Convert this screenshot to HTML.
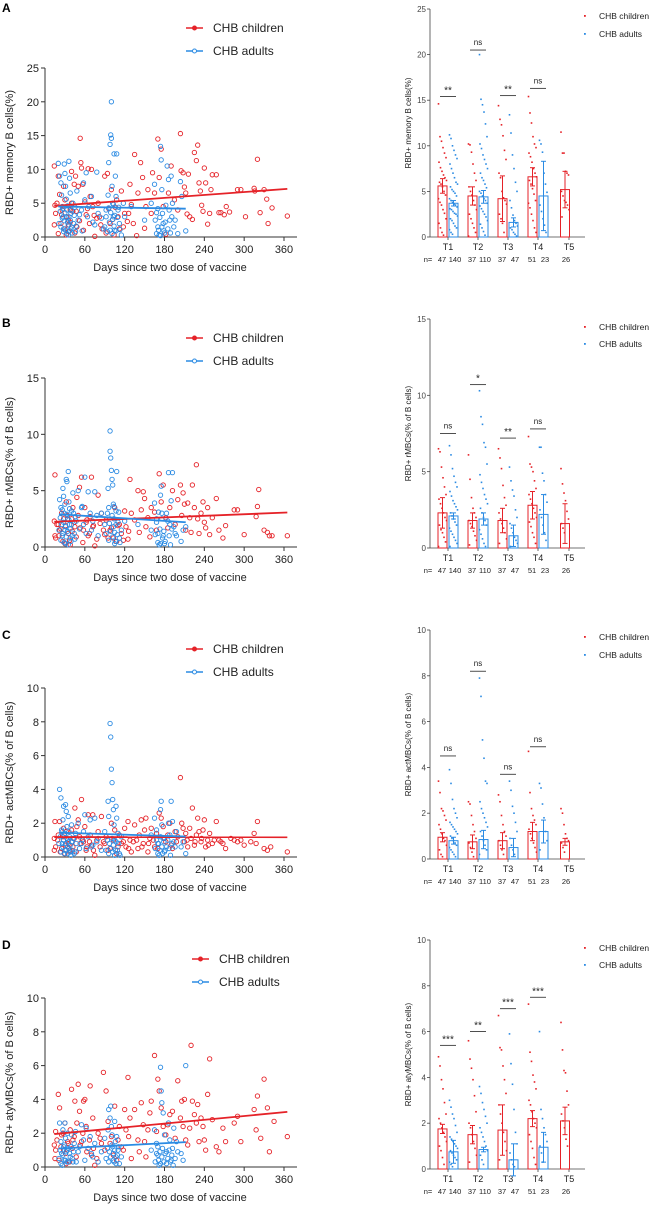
<!DOCTYPE html>
<html><head><meta charset="utf-8"><style>
html,body{margin:0;padding:0;background:#fff;}
svg{display:block;font-family:"Liberation Sans",Arial,sans-serif;}
</style></head><body>
<svg id="fig" width="654" height="1210" viewBox="0 0 654 1210" xmlns="http://www.w3.org/2000/svg"></svg>
<script>
// ---------------- DATA ----------------
const groupLabels = ["T1","T2","T3","T4","T5"];
const childN = ["47","37","37","51","26"];
const adultN = ["140","110","47","23"];
const xTicks = [0,60,120,180,240,300,360];

// Panel A scatter [day, value]
const aChild = [[14,10.5],[15,4.7],[14,1.8],[20,9],[22,6.3],[25,3.3],[28,7.5],[30,5.5],[32,0.3],[35,2.5],[36,1.8],[38,4],[40,9.7],[42,3.8],[44,7.8],[46,9],[48,1.5],[50,7.5],[53,14.6],[54,11],[55,10.2],[57,7.8],[60,5.2],[62,3.3],[65,10.1],[68,6],[70,10],[72,4.5],[75,0.1],[78,2.8],[82,3],[86,1.2],[90,9],[94,9.4],[96,4.2],[98,2],[100,7],[104,0.3],[108,5.5],[110,3],[112,1.2],[115,6.8],[120,3.5],[124,2.3],[128,7.8],[130,4.8],[133,2],[135,12.2],[138,0.2],[140,6.5],[144,11],[147,8.8],[150,1.3],[152,4.5],[155,7],[160,3.5],[162,9.5],[165,6.5],[170,14.5],[172,8.8],[175,13],[178,4.5],[182,0.4],[186,6.5],[190,10.5],[195,5.5],[200,4],[204,15.3],[205,9.8],[208,9.5],[210,7.4],[212,6.5],[214,3.4],[216,9.3],[218,3],[222,2.6],[225,12.5],[228,11.3],[230,13.6],[232,8],[234,6.8],[236,4.7],[238,3.8],[240,10.2],[242,8],[245,1.9],[248,3.5],[250,7],[252,9.2],[258,9.2],[262,3.6],[265,3.6],[270,3.3],[273,4.5],[278,3.7],[290,7],[295,7],[302,3],[315,7.2],[316,6.8],[320,11.5],[324,3.6],[330,7],[334,5.6],[336,2],[342,4.3],[365,3.1]];
const aChildMore = [[16,3.5],[18,5],[20,0.5],[24,2],[26,4],[30,1.2],[33,3],[36,0.8],[38,2.2],[40,5],[45,0.6],[47,3.8],[52,2.4],[58,1],[64,4.2],[67,2],[74,3.2],[80,5],[84,1.8],[92,0.6],[102,2.6],[106,4.4],[118,1.5],[126,3.5]];
const aAdult = [[20,10.9],[22,9],[24,8],[25,6.2],[26,4.5],[27,3],[28,1.2],[29,10.8],[30,9.4],[31,7.5],[32,5.6],[33,4],[34,2.2],[35,0.3],[36,11.2],[37,8.7],[38,6.5],[39,3.5],[40,1.5],[42,5],[44,3.2],[46,0.8],[48,6.8],[50,2.5],[55,4],[58,8],[60,5.5],[62,9.5],[64,3],[70,6],[75,1.8],[78,9.6],[85,2.8],[88,1.2],[92,4],[95,6.2],[96,11],[98,13.7],[99,15.1],[100,20],[100,14.6],[101,7.5],[102,5],[103,3],[104,12.3],[105,1],[106,9],[107,6],[108,12.3],[110,4],[112,2],[115,0.3],[118,5],[120,3],[130,4.5],[150,2.5],[160,5],[165,7.8],[168,3.6],[170,1.5],[172,0.3],[174,13.4],[175,11.4],[176,7],[178,2],[180,0.6],[182,4.7],[184,10.5],[186,8.5],[188,2.5],[190,9],[192,5],[194,1.5],[200,0.5],[204,8.2],[206,6],[212,0.9]];
const aAdultMore = [[21,2],[23,3.8],[24,1.5],[26,2.8],[27,4.2],[28,0.8],[29,2.4],[30,3.6],[31,1],[32,2.9],[33,0.5],[34,4.6],[35,1.8],[36,3],[37,0.9],[38,2.5],[39,1.2],[40,3.9],[41,0.6],[43,2],[45,4.4],[47,1.6],[52,3.3],[56,0.9],[66,4.5],[72,2.2],[80,3.5],[90,1.5],[92,3],[94,0.8],[96,4.3],[97,2.2],[98,1],[99,3.6],[101,0.5],[102,2.6],[103,4.8],[104,1.6],[105,3.2],[107,0.9],[109,2.9],[111,4.4],[113,1.1],[166,2.5],[168,0.5],[170,4.2],[171,1],[173,2.9],[174,0.2],[176,1.5],[177,3.5],[179,0.9],[181,2.2],[185,1.2],[187,4],[189,0.6],[191,3],[196,2.5]];
// Panel B scatter
const bChild = [[14,2.3],[15,6.4],[15,1],[20,2],[22,1.5],[25,3],[28,2.5],[30,0.3],[32,4],[35,1.2],[38,0.2],[40,2.5],[42,3.5],[45,1.8],[48,4.4],[50,2.8],[52,5.3],[55,6.2],[58,1.5],[60,3.5],[62,2.2],[65,1],[68,2.7],[70,6.2],[72,1.8],[75,0.1],[80,4.6],[85,3],[88,1.5],[92,2.4],[95,0.8],[100,1.7],[105,3.5],[108,0.5],[112,2],[115,1.2],[120,3.2],[122,1.8],[125,0.7],[128,6],[130,3],[135,2.4],[140,5],[142,1.3],[145,3.3],[148,4.9],[150,4.3],[152,1.8],[155,2.6],[158,0.9],[160,3.5],[165,3.1],[168,1.5],[172,6.5],[175,4],[178,5.5],[182,2.6],[185,1.7],[188,3.5],[192,5],[196,2],[200,4.2],[204,5.5],[206,2.8],[208,4.8],[210,3.8],[212,1.5],[215,3.9],[218,2.6],[220,1.3],[222,5.5],[225,3.5],[228,7.3],[230,2.5],[232,1.2],[235,3],[238,4],[240,2.2],[242,1.7],[245,3.5],[248,1.1],[252,2.6],[258,4.3],[262,1.5],[268,0.8],[272,1.9],[285,3.3],[290,3.3],[300,1.1],[318,2.7],[320,3.6],[322,5.1],[330,1.5],[335,1.3],[338,1],[342,1],[365,1]];
const bChildMore = [[16,0.8],[18,2],[21,1],[24,1.6],[27,0.5],[31,1.9],[34,2.8],[37,0.6],[41,1.4],[44,2.2],[47,0.9],[53,1.7],[57,0.4],[63,2.4],[67,1.2],[73,1.9],[78,0.7],[83,2.1],[90,1.1],[98,1.5],[103,0.8],[110,1.9],[118,0.6],[126,1.4]];
const bAdult = [[22,4.2],[24,3.5],[25,2],[26,1],[27,5.2],[28,4.5],[29,3],[30,1.5],[31,0.3],[32,6],[33,5.8],[34,2.5],[35,6.7],[36,4],[37,2],[38,0.8],[40,3.2],[42,4.8],[44,1.2],[46,2.7],[50,5],[55,3.5],[58,2],[60,6.2],[62,1.2],[65,4.9],[68,3],[72,2.3],[75,4.9],[80,1],[85,3],[90,2],[95,5.2],[96,3.5],[98,10.3],[98,8.5],[99,7.9],[100,6.8],[101,6],[102,5.5],[103,3.8],[104,2.5],[105,1.3],[106,0.5],[107,3.2],[108,6.7],[110,2.2],[112,0.8],[115,1.5],[120,2.3],[140,2],[160,1.5],[165,3.9],[168,2.5],[170,1.2],[172,0.2],[174,4.6],[175,5.4],[176,3],[178,1],[180,0.3],[183,3],[186,6.6],[188,2],[190,4.1],[192,6.6],[194,1.8],[198,1],[205,0.5],[212,1.8]];
const bAdultMore = [[21,1.5],[23,2.6],[24,0.6],[26,3.3],[27,1.2],[28,2.2],[29,0.4],[30,3.8],[31,1.8],[32,0.9],[33,2.9],[34,1.4],[35,0.2],[36,2.4],[37,3.4],[38,1.6],[39,0.5],[40,2],[41,1],[43,3],[45,0.7],[47,2.3],[52,1.6],[56,3.6],[70,1.5],[78,2.8],[92,1.2],[94,3],[96,0.6],[97,2.1],[99,1.4],[101,2.8],[102,0.9],[103,1.8],[104,3.6],[105,0.3],[107,2],[109,1.1],[111,3.1],[113,0.4],[166,1.1],[168,2.2],[170,0.4],[171,3.1],[173,1.6],[174,0.3],[176,2.5],[177,0.8],[179,1.4],[181,0.5],[185,2.3],[187,1],[189,0.2],[191,1.6],[196,1.2],[208,1.5]];
// Panel C scatter
const cChild = [[14,1.1],[14,0.4],[15,2.1],[20,1.3],[22,2.1],[25,0.5],[28,1.7],[30,0.2],[32,1.5],[35,0.8],[38,0.3],[40,1.6],[42,0.6],[45,2.9],[48,1.8],[50,2.2],[52,1.2],[55,3.4],[58,0.9],[60,1.8],[62,0.4],[65,2.5],[68,1.3],[70,0.7],[72,2.5],[75,0.1],[80,1.5],[85,2.4],[88,0.9],[92,1.2],[95,0.4],[100,2],[105,1.6],[108,0.2],[112,1.3],[115,0.8],[120,1.7],[122,0.6],[125,2.1],[128,1],[130,0.3],[135,1.9],[140,0.5],[142,1.3],[145,2.2],[148,0.8],[150,1.6],[152,2.3],[155,0.3],[158,1.1],[160,1.7],[165,0.6],[168,1.4],[172,2.6],[175,2.3],[178,1.8],[182,0.9],[185,1.3],[188,2],[192,0.5],[196,1.5],[200,1.2],[204,4.7],[206,2],[208,1.7],[210,0.9],[212,1.4],[215,0.6],[218,1.7],[220,1.1],[222,2.9],[225,0.7],[228,1.3],[230,2.3],[232,1.5],[235,0.9],[238,1.6],[240,2.2],[242,0.6],[245,1],[248,1.4],[252,0.8],[258,2.1],[262,1],[268,0.8],[272,0.5],[285,1],[290,0.9],[300,0.7],[315,1.4],[318,0.8],[320,2.1],[330,0.5],[335,0.4],[340,0.6],[365,0.3]];
const cChildMore = [[16,0.6],[19,1],[23,0.3],[27,1.2],[31,0.7],[34,1],[37,0.4],[41,0.9],[44,1.1],[47,0.3],[53,0.8],[57,1],[63,0.6],[67,0.9],[73,0.4],[78,1],[83,0.6],[90,0.8],[98,0.5],[103,1],[110,0.6],[118,0.9],[126,0.5],[133,0.9],[138,1],[146,0.6],[156,0.8],[163,1],[170,0.5],[180,1.1],[190,0.7],[198,0.9],[214,1],[226,0.9],[236,1.1],[246,0.7],[255,1],[265,0.9],[280,1.1],[295,1],[310,0.9]];
const cAdult = [[22,4],[24,3.5],[25,1.6],[26,0.8],[27,2.2],[28,3],[29,1.3],[30,0.4],[31,3.1],[32,2.7],[33,1.8],[34,0.6],[35,2.4],[36,1.5],[38,0.3],[40,1.9],[42,1.1],[44,0.2],[46,1.4],[50,2],[55,0.8],[58,1.5],[60,2.5],[62,0.5],[65,1.2],[68,2.2],[72,0.7],[75,2.3],[80,1.1],[85,0.4],[90,1.5],[95,3.3],[96,2.4],[98,7.9],[99,7.1],[100,5.2],[101,4.4],[102,3.4],[103,2.8],[104,1.9],[105,1],[106,0.4],[107,3],[108,2.3],[110,1.4],[112,0.2],[115,1.2],[160,1.3],[165,2.3],[168,1.6],[170,0.8],[172,0.1],[174,2.8],[175,3.3],[176,1.9],[178,1.1],[180,0.3],[183,0.6],[186,2],[188,1.3],[190,3.3],[192,2.1],[194,0.9],[198,1.5],[205,0.6],[212,0.2]];
const cAdultMore = [[21,0.8],[23,1.2],[24,0.3],[26,1.5],[27,0.6],[28,1],[29,0.2],[30,1.4],[31,0.8],[32,0.4],[33,1.1],[34,0.2],[35,0.9],[36,0.5],[37,1.2],[38,0.7],[39,0.1],[40,0.9],[41,0.4],[43,1.1],[45,0.3],[47,0.8],[52,0.5],[56,1],[70,0.6],[78,0.9],[92,0.4],[94,1],[96,0.2],[97,0.8],[99,0.5],[101,1.1],[102,0.3],[103,0.7],[105,0.1],[107,0.9],[109,0.4],[111,0.8],[113,0.1],[166,0.5],[168,1],[170,0.2],[171,0.8],[173,0.4],[174,1.2],[176,0.6],[177,0.2],[179,0.9],[181,0.4],[185,1],[187,0.5],[189,0.1],[191,0.8],[196,0.6],[208,0.9]];
// Panel D scatter
const dChild = [[14,1.3],[15,0.5],[16,2.1],[20,4.3],[22,3.5],[25,1.9],[28,1],[30,2.6],[32,0.2],[35,1.4],[38,2.2],[40,4.6],[42,1.6],[45,3.9],[48,2.6],[50,4.9],[52,3.3],[55,1.5],[58,3.9],[60,4],[62,2.4],[65,1.1],[68,4.8],[70,0.7],[72,2.9],[75,0.1],[80,2],[85,1.4],[88,5.6],[92,4.5],[95,2.7],[100,1.8],[105,3.6],[108,0.4],[112,2.4],[115,1.2],[120,3.4],[122,2.2],[125,5.3],[128,2.9],[130,0.5],[135,3.4],[140,1.6],[142,0.9],[145,3.8],[148,2.5],[150,1.5],[152,0.6],[155,2.2],[158,3.2],[160,3.9],[165,6.6],[168,2.1],[170,5.2],[172,4.5],[175,3.5],[178,2.4],[182,1.9],[185,2.5],[188,3.1],[192,3.3],[196,1.7],[200,5.1],[204,2.9],[206,3.9],[208,2.4],[210,4],[212,1.6],[215,1.3],[218,2.3],[220,7.2],[222,3.9],[225,3.1],[228,2.6],[230,3.7],[232,1.5],[235,2.9],[238,2.4],[240,1.6],[242,1],[245,4.3],[248,6.4],[252,2.8],[258,1.2],[262,0.9],[268,2.3],[272,1.5],[285,2.6],[290,3],[295,1.5],[315,3.4],[318,2.2],[320,4.2],[325,1.7],[330,5.2],[335,3.5],[338,0.9],[345,2.7],[365,1.8]];
const dChildMore = [[16,1],[18,1.6],[21,0.4],[24,1.2],[27,2],[31,0.8],[34,1.5],[37,0.3],[41,1.1],[44,1.8],[47,0.6],[53,1.3],[57,2],[63,0.9],[67,1.6],[73,1.1],[78,0.5],[83,1.7],[90,1],[98,1.4],[103,0.7],[110,1.6],[118,1],[126,1.8]];
const dAdult = [[22,2.6],[24,1.5],[25,0.8],[26,0.1],[27,2.2],[28,1.2],[29,0.4],[30,2.6],[31,1.7],[32,0.9],[33,0.3],[34,2],[35,1.1],[38,0.6],[40,1.9],[42,0.3],[44,1.4],[46,2.1],[50,0.9],[55,2.5],[58,1.6],[60,0.4],[62,2.3],[65,1.1],[68,1.8],[72,0.6],[75,1.4],[80,0.3],[85,0.9],[90,1.7],[95,2.2],[96,3.4],[98,2.9],[99,3.6],[100,2.4],[101,1.9],[102,1.2],[103,0.8],[104,0.3],[105,2.7],[106,1.5],[107,0.6],[108,1.8],[110,1],[112,0.2],[115,0.6],[160,1],[165,2.2],[168,1.4],[170,0.7],[172,0.1],[174,5.9],[175,4.5],[176,3.8],[178,3.2],[180,1.9],[183,0.9],[186,2.6],[188,1.6],[190,0.4],[192,1.1],[194,2.3],[198,1.5],[205,0.8],[212,6]];
const dAdultMore = [[21,0.5],[23,1],[24,0.2],[27,0.7],[29,1.3],[31,0.4],[33,1],[35,0.3],[37,0.8],[39,1.2],[41,0.5],[43,0.9],[47,0.3],[52,1.2],[70,0.8],[92,0.5],[94,1.1],[96,0.3],[97,0.9],[99,0.6],[101,1.3],[103,0.4],[105,1],[107,0.2],[109,0.7],[111,1.2],[166,0.3],[168,0.8],[170,1.2],[171,0.4],[173,0.9],[174,0.2],[176,0.6],[177,1.1],[179,0.3],[181,0.8],[183,0.2],[185,0.5],[187,1],[189,0.3],[191,0.7],[193,0.1],[196,0.5],[200,0.9],[208,0.4]];

// Bar panels: means, error half-lengths, dots, significance
const aChildMean = [5.6,4.5,4.2,6.6,5.2];
const aChildErr = [0.8,1.0,2.5,1.0,2.0];
const aAdultMean = [3.7,4.4,1.6,4.5];
const aAdultErr = [0.3,0.7,0.5,3.8];
const aChildDots = [[14.6,11,10.5,9.8,9.2,8.7,8.2,7.6,7.2,6.8,6.5,6.2,6,5.8,5.5,5,4.6,4.2,3.8,3.5,3,2.6,2,1.5,1,0.5,0.2],[10.2,10.1,9.3,8,7,6.2,5.5,5,4.6,4,3.5,3,2.5,2,1.5,1,0.5,0.1],[14.4,12.9,12.3,11.1,9.5,8.5,7,6.5,5,4.3,4,3.6,2.5,2,1.5,0.5],[15.4,13.6,12.5,11,10.2,9.8,9.2,8.8,8.2,7.5,7,6.6,6.2,5.8,5.3,4.7,4,3.7,3.2,2.5,1.8,1,0.5],[11.5,9.2,9.2,7.2,7,6.8,5,4.5,4,3.8,3.5,3,2.2]];
const aAdultDots = [[11.2,10.8,10,9.5,9,8.6,8,7.5,7,6.5,6,5.8,5.5,5.2,5,4.8,4.5,4.2,4,3.8,3.6,3.5,3.3,3.1,3,2.8,2.6,2.5,2.3,2,1.8,1.5,1.2,1,0.8,0.5,0.3],[20,15.1,14.5,13.7,12.4,11,10.2,9.7,9,8.5,8,7.5,7,6.5,6.2,5.8,5.4,5,4.8,4.5,4.2,4,3.7,3.4,3.1,2.8,2.5,2.2,1.8,1.4,1,0.6,0.2],[13.4,11.4,9,7.5,6,5,4,3.2,2.4,1.8,1.5,1.2,1,0.8,0.5,0.3,0.1],[10.6,10.2,9.3,7,5.8,4.9,3.5,2.8,2,1.3,0.5]];
const aSigLevel = [15.4,20.5,15.5,16.3];
const aSigText = ["**","ns","**","ns"];

const bChildMean = [2.3,1.8,1.8,2.8,1.6];
const bChildErr = [1.0,0.5,0.8,0.9,1.3];
const bAdultMean = [2.1,1.9,0.8,2.2];
const bAdultErr = [0.2,0.4,0.7,1.3];
const bChildDots = [[6.5,6.3,5.3,4.6,4,3.5,3.2,2.9,2.6,2.3,2,1.8,1.5,1.2,1,0.7,0.4,0.1],[6.1,4.5,3.3,2.6,2.3,2,1.8,1.6,1.4,1.1,0.8,0.5,0.2],[6.5,5.9,5.2,4.1,3.3,2.8,2.3,1.9,1.6,1.3,1,0.6,0.3],[7.3,5.5,5.3,5,4.4,3.9,3.5,3.2,2.9,2.6,2.3,2,1.7,1.4,1,0.7,0.3],[5.2,4.2,3.6,3.1,2.4,1.9,1.6,1.3,1]];
const bAdultDots = [[6.7,6.1,5.2,4.7,4.3,4,3.7,3.4,3.1,2.9,2.7,2.5,2.3,2.1,1.9,1.7,1.5,1.3,1.1,0.9,0.7,0.5,0.3,0.1],[10.3,8.6,8.1,6.9,6.6,5.5,4.8,4.3,3.9,3.5,3.2,2.9,2.6,2.3,2,1.8,1.5,1.2,0.9,0.6,0.3,0.1],[5.3,4.4,3.8,3.4,2.5,2,1.6,1.3,1,0.7,0.5,0.3,0.1],[6.6,6.6,4.9,4.4,3.5,3,2.5,2,1.5,1,0.5]];
const bSigLevel = [7.5,10.7,7.2,7.8];
const bSigText = ["ns","*","**","ns"];

const cChildMean = [0.95,0.75,0.8,1.2,0.75];
const cChildErr = [0.2,0.3,0.35,0.4,0.15];
const cAdultMean = [0.8,0.85,0.5,1.2];
const cAdultErr = [0.15,0.4,0.4,0.5];
const cChildDots = [[3.4,2.9,2.2,2.1,1.9,1.7,1.5,1.3,1.1,0.9,0.8,0.6,0.4,0.2,0.1],[2.5,2.4,1.9,1.5,1.2,0.9,0.7,0.5,0.3,0.1],[2.8,2.5,1.9,1.5,1.2,1,0.8,0.6,0.4,0.2],[4.7,2.9,2.2,1.9,1.7,1.5,1.3,1.1,0.9,0.7,0.5,0.3],[2.2,2,1.5,1.1,0.9,0.8,0.7,0.5,0.3]];
const cAdultDots = [[3.9,3.3,2.6,2.2,2,1.8,1.6,1.5,1.4,1.3,1.2,1.1,1,0.9,0.8,0.7,0.6,0.5,0.4,0.3,0.2,0.1],[7.9,7.1,5.2,4.4,3.4,3.3,2.5,2.2,2,1.8,1.6,1.4,1.2,1,0.8,0.6,0.4,0.2],[3.4,3,2.3,2,1.6,1.2,0.9,0.6,0.4,0.2],[3.3,3.1,2.4,1.8,1.2,0.8,0.4]];
const cSigLevel = [4.5,8.2,3.7,4.9];
const cSigText = ["ns","ns","ns","ns"];

const dChildMean = [1.75,1.5,1.7,2.2,2.1];
const dChildErr = [0.2,0.4,1.1,0.35,0.6];
const dAdultMean = [0.75,0.85,0.4,0.95];
const dAdultErr = [0.5,0.1,0.7,0.65];
const dChildDots = [[4.9,4.5,3.9,3.5,2.9,2.4,2.2,2,1.8,1.6,1.4,1.2,1,0.8,0.5,0.2],[5.6,4.8,4.4,3.9,3.2,2.5,2,1.8,1.5,1.2,0.9,0.6,0.3],[6.7,5.3,5.2,4.5,3.9,3.3,2.8,2.4,2,1.6,1.2,0.8,0.4],[7.2,5.1,4.7,4.1,3.8,3.5,3,2.8,2.5,2.2,2,1.8,1.5,1.2,0.9,0.5,0.2],[6.4,5.2,4.3,4.2,3.4,2.8,2.4,2.1,1.8,1.3,1]];
const dAdultDots = [[3,2.7,2.4,2.2,1.9,1.6,1.4,1.3,1.2,1.1,1,0.9,0.8,0.7,0.6,0.5,0.4,0.3,0.2,0.1],[3.6,3.3,2.9,2.6,2.3,2,1.8,1.6,1.4,1.2,1,0.8,0.6,0.4,0.2],[5.9,4.6,3.7,2.6,1.6,1.1,0.7,0.4,0.2,0.1],[6,2.6,2.2,1.8,1.5,1.2,1,0.7,0.3]];
const dSigLevel = [5.4,6.0,7.0,7.5];
const dSigText = ["***","**","***","***"];

// ---------------- DRAW ----------------
const NS = "http://www.w3.org/2000/svg";
const RED = "#e52228", BLUE = "#2b8be3";
const svg = document.getElementById("fig");
function add(parent, tag, attrs, name) {
  const el = document.createElementNS(NS, tag);
  for (const k in attrs) el.setAttribute(k, attrs[k]);
  
  
  parent.appendChild(el);
  return el;
}
function txt(parent, x, y, s, size, anchor, name, extra) {
  const t = add(parent, "text", Object.assign({x:x, y:y, "font-size":size, "text-anchor":anchor||"start", fill:"#222"}, extra||{}), name);
  t.textContent = s;
  return t;
}
function regress(pts) {
  let n=pts.length,sx=0,sy=0,sxx=0,sxy=0,mn=1e9,mx=-1e9;
  pts.forEach(p=>{sx+=p[0];sy+=p[1];sxx+=p[0]*p[0];sxy+=p[0]*p[1];mn=Math.min(mn,p[0]);mx=Math.max(mx,p[0]);});
  const b=(n*sxy-sx*sy)/(n*sxx-sx*sx), a=(sy-b*sx)/n;
  return {a:a,b:b,mn:mn,mx:mx};
}

const panels = [
  {letter:"A", ly:12, legY:[28,51], legX:186, sTop:68, sBot:237, sMax:25, sStep:5, sTitle:"RBD+ memory B cells(%)",
   child:aChild.concat(aChildMore), adult:aAdult.concat(aAdultMore), rTop:9, rBot:237, rMax:25, rStep:5, rTitle:"RBD+ memory B cells(%)", rLeg:[16,34],
   cm:aChildMean, ce:aChildErr, am:aAdultMean, ae:aAdultErr, cd:aChildDots, ad:aAdultDots, sl:aSigLevel, st:aSigText},
  {letter:"B", ly:327, legY:[338,361], legX:186, sTop:378, sBot:547, sMax:15, sStep:5, sTitle:"RBD+ rMBCs(% of B cells)",
   child:bChild.concat(bChildMore), adult:bAdult.concat(bAdultMore), rTop:319, rBot:548, rMax:15, rStep:5, rTitle:"RBD+ rMBCs(% of B cells)", rLeg:[327,344],
   cm:bChildMean, ce:bChildErr, am:bAdultMean, ae:bAdultErr, cd:bChildDots, ad:bAdultDots, sl:bSigLevel, st:bSigText},
  {letter:"C", ly:639, legY:[649,672], legX:186, sTop:688, sBot:857, sMax:10, sStep:2, sTitle:"RBD+ actMBCs(% of B cells)",
   child:cChild.concat(cChildMore), adult:cAdult.concat(cAdultMore), rTop:630, rBot:859, rMax:10, rStep:2, rTitle:"RBD+ actMBCs(% of B cells)", rLeg:[637,655],
   cm:cChildMean, ce:cChildErr, am:cAdultMean, ae:cAdultErr, cd:cChildDots, ad:cAdultDots, sl:cSigLevel, st:cSigText},
  {letter:"D", ly:949, legY:[959,982], legX:192, sTop:998, sBot:1167, sMax:10, sStep:2, sTitle:"RBD+ atyMBCs(% of B cells)",
   child:dChild.concat(dChildMore), adult:dAdult.concat(dAdultMore), rTop:940, rBot:1169, rMax:10, rStep:2, rTitle:"RBD+ atyMBCs(% of B cells)", rLeg:[948,965],
   cm:dChildMean, ce:dChildErr, am:dAdultMean, ae:dAdultErr, cd:dChildDots, ad:dAdultDots, sl:dSigLevel, st:dSigText}
];

panels.forEach((p, pi) => {
  const g = add(svg, "g", {}, "panel-" + p.letter.toLowerCase());
  txt(g, 2, p.ly, p.letter, 12, "start", "panel-label", {"font-weight":"bold", fill:"#000"});

  // ---- scatter ----
  const sc = add(g, "g", {}, "scatter-chart");
  const X0 = 45, X1 = 284;
  const sx = d => X0 + d/360*(X1-X0);
  const sy = v => p.sBot - v/p.sMax*(p.sBot-p.sTop);
  add(sc, "line", {x1:X0, y1:p.sTop, x2:X0, y2:p.sBot, stroke:"#333", "stroke-width":1}, "y-axis");
  add(sc, "line", {x1:X0, y1:p.sBot, x2:297, y2:p.sBot, stroke:"#333", "stroke-width":1}, "x-axis");
  for (let v = 0; v <= p.sMax; v += p.sStep) {
    add(sc, "line", {x1:X0-4, y1:sy(v), x2:X0, y2:sy(v), stroke:"#333"}, "y-tick");
    txt(sc, X0-6, sy(v)+4, String(v), 11, "end", "y-tick-label");
  }
  xTicks.forEach(d => {
    add(sc, "line", {x1:sx(d), y1:p.sBot, x2:sx(d), y2:p.sBot+4, stroke:"#333"}, "x-tick");
    txt(sc, sx(d), p.sBot+16, String(d), 11, "middle", "x-tick-label");
  });
  txt(sc, 170, p.sBot+34, "Days since two dose of vaccine", 11, "middle", "x-axis-title");
  const cy = (p.sTop+p.sBot)/2;
  txt(sc, 13, cy, p.sTitle, 11, "middle", "y-axis-title", {transform:"rotate(-90 13 " + cy + ")"});
  [[p.child, RED, "children"], [p.adult, BLUE, "adults"]].forEach(s => {
    s[0].forEach(pt => {
      add(sc, "circle", {cx:sx(pt[0]), cy:sy(pt[1]), r:2.2, fill:"none", stroke:s[1], "stroke-width":0.9}, "point-" + s[2]);
    });
  });
  [[p.child, RED, "children"], [p.adult, BLUE, "adults"]].forEach(s => {
    const r = regress(s[0]);
    add(sc, "line", {x1:sx(r.mn), y1:sy(r.a+r.b*r.mn), x2:sx(r.mx), y2:sy(r.a+r.b*r.mx), stroke:s[1], "stroke-width":1.8}, "trend-line-" + s[2]);
  });
  // legend
  const lg = add(sc, "g", {}, "legend");
  [["CHB children", RED, p.legY[0]], ["CHB adults", BLUE, p.legY[1]]].forEach((e, i) => {
    const le = add(lg, "g", {}, "legend-entry");
    add(le, "line", {x1:p.legX, y1:e[2], x2:p.legX+17, y2:e[2], stroke:e[1], "stroke-width":1.6}, "legend-line");
    add(le, "circle", {cx:p.legX+8.5, cy:e[2], r:2, fill:i===0?e[1]:"#fff", stroke:e[1], "stroke-width":1}, "legend-marker");
    txt(le, p.legX+27, e[2]+4, e[0], 12, "start", "legend-label");
  });

  // ---- bar chart ----
  const bc = add(g, "g", {}, "bar-chart");
  const AX = 430, centers = [448,478,508,538,569];
  const ry = v => p.rBot - v/p.rMax*(p.rBot-p.rTop);
  add(bc, "line", {x1:AX, y1:p.rTop, x2:AX, y2:p.rBot, stroke:"#444", "stroke-width":0.8}, "y-axis");
  add(bc, "line", {x1:AX, y1:p.rBot, x2:585, y2:p.rBot, stroke:"#444", "stroke-width":0.8}, "x-axis");
  for (let v = 0; v <= p.rMax; v += p.rStep) {
    add(bc, "line", {x1:AX-3, y1:ry(v), x2:AX, y2:ry(v), stroke:"#444", "stroke-width":0.8}, "y-tick");
    txt(bc, AX-4, ry(v)+3, String(v), 8, "end", "y-tick-label", {fill:"#444"});
  }
  const rcy = (p.rTop+p.rBot)/2;
  txt(bc, 411, rcy, p.rTitle, 8, "middle", "y-axis-title", {transform:"rotate(-90 411 " + rcy + ")"});
  txt(bc, 428, p.rBot+25, "n=", 7.5, "middle", "sample-size-prefix");
  groupLabels.forEach((lab, i) => {
    add(bc, "line", {x1:centers[i], y1:p.rBot, x2:centers[i], y2:p.rBot+3, stroke:"#444", "stroke-width":0.8}, "x-tick");
    txt(bc, centers[i], p.rBot+13, lab, 9, "middle", "x-tick-label");
  });
  childN.forEach((s, i) => {
    txt(bc, i < 4 ? centers[i]-6 : centers[i]-3, p.rBot+25, s, 7.5, "middle", "sample-size-children");
  });
  adultN.forEach((s, i) => {
    txt(bc, centers[i]+7, p.rBot+25, s, 7.5, "middle", "sample-size-adults");
  });
  function drawBar(c, mean, err, dots, color, who) {
    const x = c - 4.5, w = 9;
    add(bc, "rect", {x:x, y:ry(mean), width:w, height:p.rBot-ry(mean), fill:"#fff", stroke:color, "stroke-width":1}, "bar-" + who);
    dots.forEach((v, j) => {
      const jx = c + (((j*37)%17)/16 - 0.5)*8;
      add(bc, "rect", {x:jx-0.8, y:ry(v)-0.8, width:1.6, height:1.6, fill:color}, "dot-" + who);
    });
    add(bc, "line", {x1:c, y1:ry(mean-err), x2:c, y2:ry(mean+err), stroke:color, "stroke-width":1}, "error-bar-" + who);
    add(bc, "line", {x1:c-2.5, y1:ry(mean+err), x2:c+2.5, y2:ry(mean+err), stroke:color, "stroke-width":1}, "error-cap-" + who);
    add(bc, "line", {x1:c-2.5, y1:ry(mean-err), x2:c+2.5, y2:ry(mean-err), stroke:color, "stroke-width":1}, "error-cap-" + who);
  }
  p.cm.forEach((m, i) => {
    const c = i < 4 ? centers[i] - 5.5 : centers[i] - 4;
    drawBar(c, m, p.ce[i], p.cd[i], RED, "children");
  });
  p.am.forEach((m, i) => {
    drawBar(centers[i] + 5.5, m, p.ae[i], p.ad[i], BLUE, "adults");
  });
  p.sl.forEach((lv, i) => {
    add(bc, "line", {x1:centers[i]-8, y1:ry(lv), x2:centers[i]+8, y2:ry(lv), stroke:"#222", "stroke-width":0.8}, "significance-line");
    txt(bc, centers[i], ry(lv) - (p.st[i]==="ns" ? 5 : 3), p.st[i], p.st[i]==="ns" ? 8 : 10, "middle", "significance-label");
  });
  const rl = add(bc, "g", {}, "legend");
  [["CHB children", RED, p.rLeg[0]], ["CHB adults", BLUE, p.rLeg[1]]].forEach(e => {
    const le = add(rl, "g", {}, "legend-entry");
    add(le, "rect", {x:584, y:e[2]-1, width:1.8, height:1.8, fill:e[1]}, "legend-marker");
    txt(le, 599, e[2]+3, e[0], 8.5, "start", "legend-label");
  });
});
</script>
</body></html>
